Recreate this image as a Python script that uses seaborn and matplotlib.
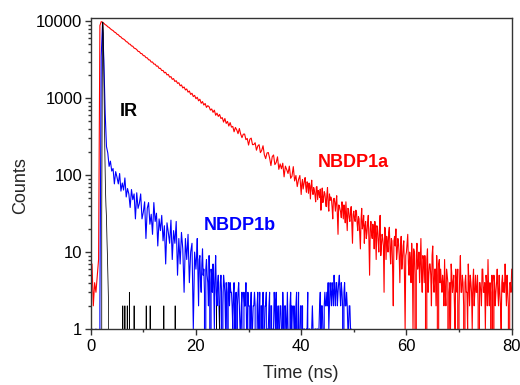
import numpy as np
import pandas as pd
import matplotlib
matplotlib.use("Agg")
import matplotlib.pyplot as plt
import matplotlib.ticker as ticker
import seaborn as sns

# channel widths of the decay histograms (ns): coarse early part, finer tail
early_channel_ns = 0.25
late_channel_ns = 0.125

# NBDP1a decay, counts per channel from t = 0 to 39.75 ns
red_early = [
    5, 7, 2, 4, 3, 5, 8, 8800, 9900, 9700,
    9430, 9060, 8850, 8490, 8310, 7990, 7740, 7580,
    7250, 7120, 6800, 6690, 6380, 6260, 5970, 5880,
    5700, 5440, 5360, 5090, 5030, 4790, 4740, 4480,
    4420, 4290, 4070, 4030, 3820, 3790, 3580, 3560,
    3370, 3350, 3160, 3140, 2950, 2960, 2780, 2770,
    2610, 2620, 2440, 2450, 2290, 2300, 2140, 2170,
    2010, 2040, 1880, 1910, 1760, 1800, 1650, 1690,
    1560, 1590, 1450, 1490, 1360, 1400, 1280, 1320,
    1200, 1240, 1120, 1160, 1050, 1090, 985, 1030,
    925, 970, 860, 905, 815, 855, 760, 800,
    775, 700, 725, 655, 700, 600, 640, 580,
    615, 545, 560, 490, 545, 470, 500, 435,
    482, 421, 430, 366, 417, 388, 346, 404, 342, 307, 341, 342, 289, 300, 246, 294,
    303, 249, 250, 264, 211, 239, 249, 196, 210, 241, 184, 164, 194, 197, 167, 133,
    174, 183, 137, 146, 173, 119, 140, 121, 143, 95, 131, 118, 105, 131, 91, 97,
    129, 84, 99, 71, 88, 99,
]

# NBDP1a decay, counts per channel from t = 40 to 80 ns
red_late = [
    56, 78, 88, 66, 75, 85, 93, 70, 60, 82, 76, 58, 79, 74, 49, 71, 86, 62, 56, 69,
    64, 55, 45, 70, 71, 48, 63, 59, 51, 66, 35, 52, 68, 44, 50, 61,
    58, 46, 39, 55, 69, 41, 34, 57, 47, 52, 49, 38, 27, 48, 50, 44,
    34, 45, 54, 30, 17, 41, 40, 36, 33, 28, 45, 38, 27, 41, 33, 24,
    45, 30, 19, 37, 36, 28, 25, 33, 39, 22, 13, 31, 34, 27, 25, 35,
    34, 24, 19, 29, 27, 17, 11, 26, 37, 20, 23, 30, 13, 22, 25, 15,
    18, 24, 30, 14, 5, 20, 25, 17, 15, 23, 19, 11, 25, 18, 8, 22,
    21, 14, 10, 19, 30, 9, 12, 17, 15, 12, 3, 21, 20, 8, 16, 13,
    10, 18, 21, 11, 7, 15, 14, 6, 2, 14, 16, 12, 20, 8, 10, 15,
    13, 9, 4, 11, 16, 6, 8, 12, 14, 5, 1, 9, 10, 13, 17, 7,
    5, 10, 8, 4, 13, 8, 1, 11, 10, 5, 0, 9, 13, 6, 7, 10,
    4, 7, 15, 5, 3, 9, 8, 4, 9, 6, 0, 8, 11, 3, 5, 7,
    7, 5, 2, 9, 12, 4, 3, 6, 6, 2, 9, 5, 0, 7, 8, 4,
    6, 4, 3, 5, 4, 2, 8, 3, 2, 6, 5, 4, 0, 3, 4, 1,
    7, 5, 3, 4, 5, 2, 1, 6, 4, 3, 6, 0, 2, 5, 9, 3,
    3, 5, 4, 2, 0, 4, 5, 3, 3, 1, 7, 4, 2, 5, 4, 3,
    1, 4, 6, 2, 3, 5, 3, 3, 5, 2, 0, 4, 4, 3, 2, 6,
    6, 3, 3, 4, 1, 5, 4, 2, 8, 3, 2, 4, 3, 0, 5, 3,
    0, 5, 4, 2, 3, 4, 6, 3, 2, 5, 3, 2, 1, 4, 5, 3,
    4, 3, 7, 4, 2, 5, 3, 2, 0, 4, 4, 3, 6,
]

# NBDP1b decay, counts per channel from t = 0 to 19.75 ns
blue_early = [
    0, 1, 0, 0, 1, 0, 0, 2, 3500, 9500, 3100, 650, 235,
    194, 130, 152, 113, 122, 77, 111, 94, 77, 105, 62, 79, 64, 92, 52, 67, 57, 38,
    65, 48, 57, 27, 59, 37, 43, 57, 27, 33, 45, 15, 37, 44, 23, 31, 17, 44, 25, 32,
    12, 27,
    19, 30, 14, 22, 7, 24, 18, 13, 26, 8, 19, 13, 25, 5, 15, 7, 18, 11, 3, 15,
    8, 17, 4, 10, 13, 1, 10,
]

# NBDP1b decay, counts per channel from t = 20 to 49.5 ns
blue_late = [
    6, 9, 15, 5, 2, 8,
    9, 4, 3, 7, 11, 5, 6, 3, 0, 6, 8, 5, 4, 2, 9, 4, 0, 6,
    5, 3, 7, 4, 1, 5, 9, 3, 2, 4, 5, 2, 1, 4, 5, 3,
    0, 2, 5, 4, 3, 1, 4, 3, 0, 4, 4, 2, 4, 3,
    3, 2, 1, 3, 4, 1, 2, 3, 0, 2, 3, 4, 2, 1, 1, 2,
    3, 0, 0, 3, 2, 2, 4, 1, 1, 3, 2, 2,
    0, 2, 3, 1, 1, 2, 2, 3, 2, 0, 0, 2, 3, 1, 1, 3, 0, 2, 2, 1,
    3, 0, 1, 2, 2, 3, 0, 1, 1, 2, 3, 0, 2, 2, 0, 1, 1, 3, 2, 1,
    3, 0, 1, 2, 0, 1, 2, 2, 1, 0, 3, 1, 0, 2, 2, 1, 1, 3, 1, 0,
    0, 2, 3, 1, 2, 0, 0, 2, 1, 1, 2, 3, 0, 1, 3, 0, 1, 2, 2, 0,
    2, 0, 1, 1, 0, 0, 1, 1, 3, 0, 1, 1, 0, 0, 1, 2, 1, 0, 0, 1, 1, 0, 1, 1, 0, 1,
    2, 3, 1, 2, 2, 1, 0, 2, 3, 2, 2, 3, 2, 4, 1, 2, 4, 3, 2, 4, 3, 2, 5, 3,
    2, 4, 4, 2, 3, 4, 5, 3, 2, 4, 3, 2, 0, 3, 4, 2, 2, 3, 2, 1, 1, 2, 2, 1,
    1,
]

# instrument response (IR): the pulse and the few stray counts after it
ir_peak_time = [0.0, 2.0, 2.1, 2.2, 2.3, 2.4, 2.5, 2.6, 2.7, 2.8, 2.9, 3.0, 3.1, 3.2, 3.3, 3.4, 3.5]
ir_peak_counts = [0, 0, 30, 1800, 9800, 7000, 2200, 600, 180, 70, 40, 28, 14, 8, 4, 2, 0]
ir_spike_time = [6.1, 6.5, 6.95, 7.35, 8.25, 10.55, 11.3, 13.9, 16.05, 23.9, 24.5]
ir_spike_counts = [2, 2, 2, 3, 2, 2, 2, 2, 2, 2, 2]

red_late_start = 40.0
blue_late_start = 20.0

sample_names = ["NBDP1a", "NBDP1b"]
sample_colors = ["#ff0000", "#0000ff"]

# build long tables for seaborn
red_time = np.concatenate([np.arange(len(red_early)) * early_channel_ns,
                           red_late_start + np.arange(len(red_late)) * late_channel_ns])
blue_time = np.concatenate([np.arange(len(blue_early)) * early_channel_ns,
                            blue_late_start + np.arange(len(blue_late)) * late_channel_ns])
ir_time = list(ir_peak_time)
ir_counts = list(ir_peak_counts)
for t, c in zip(ir_spike_time, ir_spike_counts):
    ir_time += [t - 0.015, t, t + 0.015]
    ir_counts += [0, c, 0]
ir_time.append(80.0)
ir_counts.append(0)

decays = pd.concat([
    pd.DataFrame({"time": red_time, "counts": red_early + red_late, "sample": "NBDP1a"}),
    pd.DataFrame({"time": blue_time, "counts": blue_early + blue_late, "sample": "NBDP1b"}),
], ignore_index=True)
ir = pd.DataFrame({"time": ir_time, "counts": ir_counts})

sns.set_style("ticks")
plt.rcParams["font.family"] = ["Liberation Sans", "DejaVu Sans"]

fig, ax = plt.subplots(figsize=(5.2, 3.85), dpi=100)
fig.subplots_adjust(left=0.1744, right=0.984, bottom=0.1455, top=0.9545)

sns.lineplot(data=decays, x="time", y="counts", hue="sample", hue_order=sample_names,
             palette=dict(zip(sample_names, sample_colors)), estimator=None,
             linewidth=0.8, legend=False, ax=ax)
sns.lineplot(data=ir, x="time", y="counts", color="black", estimator=None,
             linewidth=0.55, ax=ax)

ax.set_yscale("log", nonpositive="clip")
ax.set_ylim(1, 11200)
ax.set_xlim(0, 80)

ax.yaxis.set_major_locator(ticker.FixedLocator([1, 10, 100, 1000, 10000]))
ax.yaxis.set_major_formatter(ticker.FuncFormatter(lambda v, p: f"{v:g}"))
ax.yaxis.set_minor_locator(ticker.LogLocator(base=10, subs=np.arange(2, 10)))
ax.yaxis.set_minor_formatter(ticker.NullFormatter())
ax.xaxis.set_major_locator(ticker.MultipleLocator(20))
ax.xaxis.set_minor_locator(ticker.MultipleLocator(10))

for side in ["left", "bottom", "top", "right"]:
    ax.spines[side].set_visible(True)
    ax.spines[side].set_color("#333333")
    ax.spines[side].set_linewidth(1.0)

ax.tick_params(which="both", direction="out", color="#333333", width=1.0,
               top=False, right=False, labelsize=12, labelcolor="black")
ax.tick_params(which="major", length=4.5)
ax.tick_params(which="minor", length=2.2)
ax.tick_params(axis="y", pad=1.5)
ax.tick_params(axis="x", pad=3)

ax.set_xlabel("Time (ns)", fontsize=13)
ax.set_ylabel("Counts", fontsize=13)
ax.xaxis.set_label_coords(0.5, -0.115)
ax.yaxis.set_label_coords(-0.147, 0.46)

ax.text(7.25, 665, "IR", fontsize=13, fontweight="bold", color="black", ha="center", va="center")
ax.text(28.4, 22.4, "NBDP1b", fontsize=13, fontweight="bold", color="#0000ff", ha="center", va="center")
ax.text(49.9, 145, "NBDP1a", fontsize=13, fontweight="bold", color="#ff0000", ha="center", va="center")

fig.savefig("out.png", dpi=100)
